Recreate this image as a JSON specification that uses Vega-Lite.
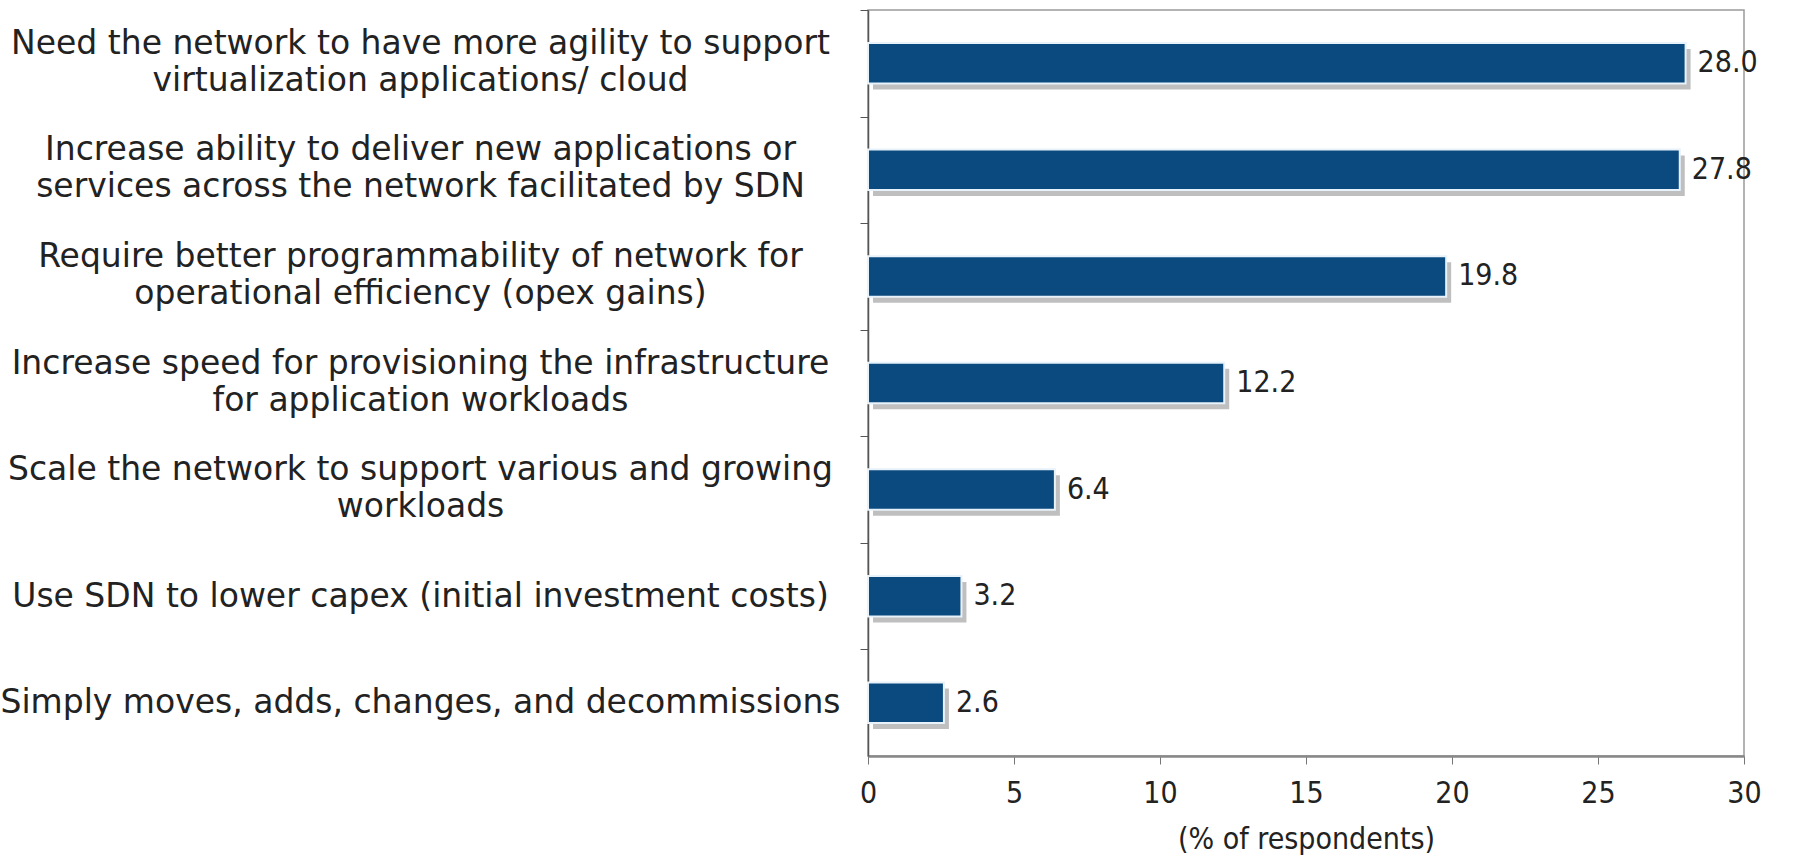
{
  "$schema": "https://vega.github.io/schema/vega-lite/v6.json",
  "width": 876,
  "height": 746,
  "autosize": {"type": "none"},
  "padding": {"left": 868, "top": 10, "right": 53, "bottom": 111},
  "background": "white",
  "config": {
    "font": "DejaVu Sans Condensed",
    "view": {"stroke": "#9a9a9a", "strokeWidth": 1.5}
  },
  "data": {
    "values": [
      {"reason": "Need the network to have more agility to support|virtualization applications/ cloud", "pct": 28.0},
      {"reason": "Increase ability to deliver new applications or|services across the network facilitated by SDN", "pct": 27.8},
      {"reason": "Require better programmability of network for|operational efficiency (opex gains)", "pct": 19.8},
      {"reason": "Increase speed for provisioning the infrastructure|for application workloads", "pct": 12.2},
      {"reason": "Scale the network to support various and growing|workloads", "pct": 6.4},
      {"reason": "Use SDN to lower capex (initial investment costs)", "pct": 3.2},
      {"reason": "Simply moves, adds, changes, and decommissions", "pct": 2.6}
    ]
  },
  "encoding": {
    "y": {
      "field": "reason",
      "type": "nominal",
      "sort": null,
      "scale": {"paddingInner": 0.62, "paddingOuter": 0.31},
      "axis": {
        "title": null,
        "tickSize": 8,
        "tickOffset": -53.29,
        "tickColor": "#555",
        "domainColor": "#555",
        "domainWidth": 1.5,
        "labelPadding": 440,
        "labelAlign": "center",
        "labelBaseline": "middle",
        "labelOffset": {"condition": {"test": "indexof(datum.value, '|') >= 0", "value": 33.3}, "value": 53.29},
        "labelLimit": 1000,
        "labelExpr": "split(datum.label, '|')",
        "labelFont": "DejaVu Sans",
        "labelFontSize": 33,
        "labelLineHeight": 37,
        "labelColor": "#222"
      }
    },
    "x": {
      "field": "pct",
      "type": "quantitative",
      "scale": {"domain": [0, 30], "nice": false},
      "axis": {
        "values": [0, 5, 10, 15, 20, 25, 30],
        "grid": false,
        "title": "(% of respondents)",
        "titleFontSize": 30,
        "titleFontWeight": "normal",
        "titleColor": "#222",
        "titlePadding": 16,
        "tickSize": 8,
        "tickColor": "#777",
        "domainColor": "#888",
        "domainWidth": 2.5,
        "labelFontSize": 30,
        "labelColor": "#222",
        "labelPadding": 14,
        "labelFlush": false
      }
    }
  },
  "layer": [
    {
      "mark": {"type": "bar", "color": "#8a8a8a", "opacity": 0.55, "xOffset": 5, "yOffset": 6}
    },
    {
      "mark": {"type": "bar", "color": "#0b4a7e", "stroke": "#e8f2fa", "strokeWidth": 2}
    },
    {
      "mark": {"type": "text", "align": "left", "baseline": "middle", "dx": 12, "fontSize": 30, "color": "#222"},
      "encoding": {"text": {"field": "pct", "type": "quantitative", "format": ".1f"}}
    }
  ]
}
